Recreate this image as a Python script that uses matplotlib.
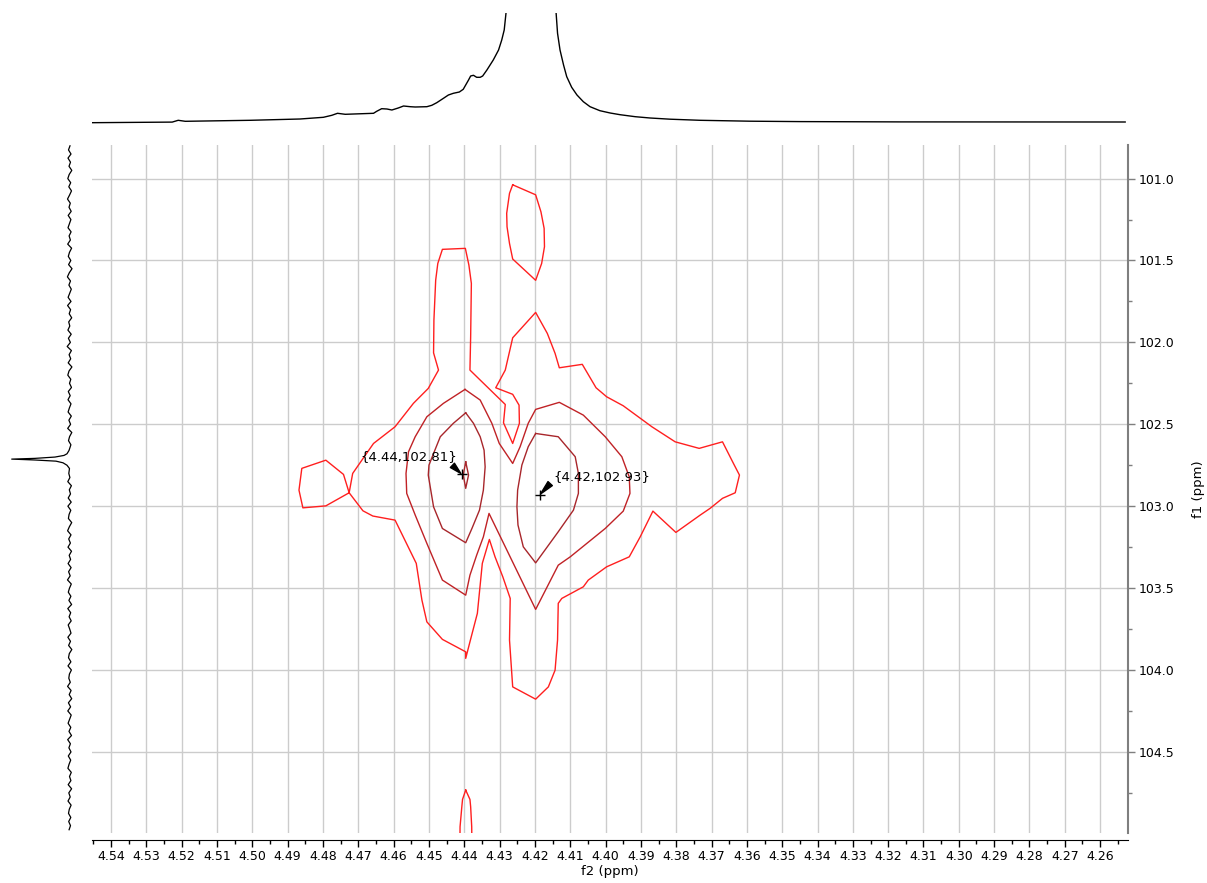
import numpy as np
import matplotlib
matplotlib.use("Agg")
import matplotlib.pyplot as plt
from matplotlib.ticker import MultipleLocator, FormatStrFormatter

# ---- 1D projection on top (f2, ppm / intensity) ----
top_f2 = [4.5457, 4.5227, 4.5210, 4.5190, 4.5006, 4.4865, 4.4799, 4.4775, 4.4759, 4.4737,
          4.4657, 4.4648, 4.4634, 4.4619, 4.4605, 4.4587, 4.4572, 4.4553, 4.4539, 4.4506,
          4.4492, 4.4478, 4.4459, 4.4445, 4.4431, 4.4414, 4.4403, 4.4388, 4.4382, 4.4374,
          4.4365, 4.4355, 4.4348, 4.4336, 4.4318, 4.4303, 4.4294, 4.4287, 4.4282, 4.4275,
          4.4265, 4.4211, 4.4158, 4.4147, 4.4140, 4.4136, 4.4129, 4.4119, 4.4110, 4.4096,
          4.4081, 4.4063, 4.4044, 4.4016, 4.3987, 4.3959, 4.3916, 4.3874, 4.3817, 4.3732,
          4.3591, 4.3449, 4.3166, 4.2529]
top_int = [-0.2, 0.4, 2.2, 1.2, 2.2, 3.5, 5.2, 7.2, 9.2, 8.2,
           9.2, 11.2, 13.8, 13.5, 12.5, 14.5, 16.5, 15.8, 15.5, 15.8,
           17.2, 19.8, 24.2, 27.5, 29.2, 30.5, 33.2, 42.5, 46.5, 47.2,
           45.2, 45.2, 46.5, 52.5, 62.5, 72.5, 82.5, 92.5, 109.2, 140.0,
           200.0, 800.0, 200.0, 140.0, 109.2, 89.2, 72.5, 57.5, 45.8, 35.2,
           27.5, 20.8, 15.8, 11.8, 9.5, 7.8, 5.8, 4.5, 3.3, 2.2,
           1.3, 0.9, 0.6, 0.5]

# ---- 1D projection on the left (f1, ppm / intensity) ----
noise_f1 = np.linspace(100.80, 104.975, 168)
noise_int = [0.0, 1.5, -1.0, 2.0, -0.5, 1.0, -1.8, 0.8, 2.2, -0.7, 1.2, -1.5, 0.4, 2.5, -0.3, 1.0, -1.2, 1.8, -0.9, 0.6, 2.0,
             -1.1, 0.9, -0.4, 2.3, -1.6, 0.5, 1.7, -0.8, 1.4, -2.0, 0.7, 2.6, -0.5, 1.1, -1.3, 0.3, 1.9, -1.0, 2.4, -0.6, 0.8,
             -1.7, 1.3, 0.2, 2.1, -1.2, 1.6, -0.4, 2.8, -1.4, 0.9, -0.7, 1.8, -1.9, 1.0, 2.2, -0.8, 0.5, -1.5, 1.7, -0.2, 2.0,
             -1.0, 0.6, 1.9, -1.3, 1.1, -0.6, 2.3, -1.8, 0.4, 1.5, -0.9, 2.7, -1.1, 0.8, -0.3, 1.6, -1.6, 1.2, 0.1, 2.2, -1.4,
             0.7, -0.5, 1.8, -1.2, 2.1, -0.8, 0.9, 1.6, -1.7, 0.6, 2.4, -1.0, 1.3, -0.4, 2.0, -1.5, 0.8, -0.6, 1.9, -1.1, 1.4,
             -0.2, 2.5, -1.3, 0.5, 1.7, -0.9, 1.1, -1.6, 2.2, -0.7, 0.9, -1.2, 1.8, 0.3, -1.0, 2.1, -0.5, 1.4, -1.8, 0.7, 1.5,
             -0.9, 2.0, -1.4, 0.6, 1.2, -0.3, 2.4, -1.1, 0.8, -1.7, 1.6, -0.6, 2.2, -1.2, 0.4, 1.9, -0.8, 1.0, -1.5, 2.3, -0.4,
             1.1, -1.0, 1.7, -0.7, 0.9, 2.1, -1.3, 0.5, -0.9, 1.8, -1.6, 1.2, -0.2, 2.0, -1.1, 0.7, 1.5, -0.8, 1.3, -0.5, 0.9]
peak1d_f1 = [102.66, 102.68, 102.69, 102.70, 102.708, 102.7125, 102.718, 102.725, 102.735, 102.75, 102.77]
peak1d_int = [1.0, 3.0, 6.0, 15.0, 35.0, 58.3, 35.0, 14.0, 7.0, 3.0, 0.5]

# ---- 2D contours (f2, f1) in ppm ----
contour_top_blob = [(4.4263, 101.038), (4.4198, 101.099), (4.4183, 101.203), (4.4174, 101.304),
                    (4.4173, 101.416), (4.4181, 101.518), (4.4198, 101.621), (4.4263, 101.491),
                    (4.4272, 101.396), (4.4279, 101.294), (4.4280, 101.212), (4.4272, 101.090),
                    (4.4263, 101.038)]

contour_left_blob = [(4.4726, 102.918), (4.4742, 102.806), (4.4792, 102.719), (4.4860, 102.769),
                     (4.4868, 102.902), (4.4857, 103.010), (4.4792, 102.998), (4.4726, 102.918)]

contour_outer = [(4.4726, 102.918), (4.4687, 103.028), (4.4659, 103.060), (4.4596, 103.085),
                 (4.4536, 103.349), (4.4520, 103.573), (4.4506, 103.706), (4.4462, 103.813),
                 (4.4396, 103.889), (4.4396, 103.929), (4.4384, 103.828), (4.4363, 103.654),
                 (4.4349, 103.349), (4.4329, 103.203), (4.4313, 103.309), (4.4291, 103.431),
                 (4.4270, 103.563), (4.4272, 103.817), (4.4263, 104.103), (4.4198, 104.178),
                 (4.4162, 104.103), (4.4143, 104.001), (4.4136, 103.817), (4.4134, 103.593),
                 (4.4124, 103.563), (4.4063, 103.492), (4.4049, 103.451), (4.3997, 103.370),
                 (4.3933, 103.309), (4.3902, 103.187), (4.3866, 103.030), (4.3801, 103.160),
                 (4.3732, 103.054), (4.3704, 103.013), (4.3669, 102.952), (4.3633, 102.918),
                 (4.3621, 102.810), (4.3638, 102.739), (4.3669, 102.607), (4.3735, 102.647),
                 (4.3803, 102.607), (4.3869, 102.515), (4.3950, 102.387), (4.3997, 102.332),
                 (4.4027, 102.277), (4.4066, 102.134), (4.4131, 102.155), (4.4143, 102.067),
                 (4.4165, 101.945), (4.4198, 101.817), (4.4263, 101.972), (4.4284, 102.169),
                 (4.4311, 102.277), (4.4263, 102.317), (4.4245, 102.383), (4.4244, 102.494),
                 (4.4263, 102.617), (4.4289, 102.491), (4.4284, 102.379), (4.4355, 102.230),
                 (4.4384, 102.169), (4.4382, 101.966), (4.4380, 101.640), (4.4387, 101.528),
                 (4.4397, 101.426), (4.4462, 101.432), (4.4475, 101.518), (4.4481, 101.620),
                 (4.4486, 101.864), (4.4487, 102.064), (4.4473, 102.169), (4.4502, 102.281),
                 (4.4544, 102.372), (4.4596, 102.515), (4.4657, 102.617), (4.4690, 102.719),
                 (4.4716, 102.800), (4.4726, 102.918)]

contour_mid = [(4.4398, 102.287), (4.4355, 102.352), (4.4322, 102.494), (4.4301, 102.617),
               (4.4263, 102.739), (4.4242, 102.637), (4.4219, 102.494), (4.4198, 102.409),
               (4.4131, 102.366), (4.4063, 102.444), (4.4001, 102.576), (4.3954, 102.698),
               (4.3933, 102.821), (4.3931, 102.922), (4.3950, 103.030), (4.4001, 103.136),
               (4.4100, 103.309), (4.4134, 103.360), (4.4198, 103.630), (4.4284, 103.248),
               (4.4330, 103.044), (4.4346, 103.187), (4.4365, 103.299), (4.4384, 103.421),
               (4.4396, 103.543), (4.4462, 103.451), (4.4506, 103.227), (4.4539, 103.054),
               (4.4563, 102.922), (4.4565, 102.800), (4.4558, 102.668), (4.4539, 102.576),
               (4.4506, 102.454), (4.4459, 102.372), (4.4398, 102.287)]

contour_inner_a = [(4.4396, 102.430), (4.4374, 102.494), (4.4355, 102.576), (4.4344, 102.658),
                   (4.4341, 102.760), (4.4346, 102.902), (4.4357, 103.024), (4.4378, 103.134),
                   (4.4396, 103.223), (4.4462, 103.136), (4.4487, 103.004), (4.4502, 102.810),
                   (4.4500, 102.749), (4.4487, 102.678), (4.4468, 102.576), (4.4431, 102.494),
                   (4.4396, 102.430)]

contour_inner_b = [(4.4198, 102.556), (4.4134, 102.576), (4.4086, 102.698), (4.4077, 102.800),
                   (4.4077, 102.922), (4.4091, 103.024), (4.4134, 103.156), (4.4198, 103.346),
                   (4.4233, 103.248), (4.4248, 103.115), (4.4251, 103.004), (4.4249, 102.902),
                   (4.4237, 102.749), (4.4219, 102.637), (4.4198, 102.556)]

contour_core = [(4.4396, 102.729), (4.4388, 102.810), (4.4396, 102.891), (4.4403, 102.810),
                (4.4396, 102.729)]

contour_bottom_blob = [(4.4396, 104.733), (4.4384, 104.790), (4.4382, 104.835), (4.4379, 104.957),
                       (4.4378, 105.200), (4.4413, 105.200), (4.4412, 104.957), (4.4407, 104.835),
                       (4.4405, 104.790), (4.4396, 104.733)]

# ---- picked peaks ----
peak_f2 = [4.4407, 4.4187]
peak_f1 = [102.806, 102.932]

# ---- figure ----
W, H = 1207, 883
fig = plt.figure(figsize=(W / 100, H / 100), dpi=100)


def rect(l, t, r, b):
    return [l / W, 1 - b / H, (r - l) / W, (b - t) / H]


xlim = (4.5454, 4.2521)
ylim = (104.995, 100.795)

ax = fig.add_axes(rect(92, 145, 1128, 833))
ax_top = fig.add_axes(rect(92, 13, 1128, 125))
ax_left = fig.add_axes(rect(5, 145, 80, 833))

lvl1 = "#ff1f1f"
lvl2 = "#c02226"
lvl3 = "#a8262b"

for c, col in [(contour_top_blob, lvl1), (contour_left_blob, lvl1), (contour_outer, lvl1),
               (contour_bottom_blob, lvl1), (contour_mid, lvl2), (contour_inner_a, lvl3),
               (contour_inner_b, lvl3), (contour_core, lvl3)]:
    arr = np.array(c)
    ax.plot(arr[:, 0], arr[:, 1], color=col, lw=1)

ax.plot(peak_f2, peak_f1, "+", color="black", ms=7, mew=1, zorder=5)

label_pos = [((4.4695, 102.694), (0.91, 0.1)), ((4.4149, 102.816), (0.0, 0.15))]
for f2, f1, (txy, rp) in zip(peak_f2, peak_f1, label_pos):
    ax.annotate("{%.2f,%.2f}" % (f2, f1), xy=(f2, f1), xytext=txy, textcoords="data",
                ha="left", va="center", fontsize=9.5,
                arrowprops=dict(arrowstyle="wedge,tail_width=0.45", color="black",
                                shrinkA=0, shrinkB=1, relpos=rp))

ax.set_xlim(*xlim)
ax.set_ylim(*ylim)
ax.xaxis.set_major_locator(MultipleLocator(0.01))
ax.xaxis.set_minor_locator(MultipleLocator(0.005))
ax.xaxis.set_major_formatter(FormatStrFormatter("%.2f"))
ax.yaxis.set_major_locator(MultipleLocator(0.5))
ax.yaxis.set_minor_locator(MultipleLocator(0.25))
ax.yaxis.set_major_formatter(FormatStrFormatter("%.1f"))
ax.yaxis.tick_right()
ax.yaxis.set_label_position("right")

ax.spines["top"].set_visible(False)
ax.spines["left"].set_visible(False)
ax.spines["right"].set_color("#7f7f7f")
ax.spines["right"].set_linewidth(1.5)
ax.spines["bottom"].set_position(("outward", 5))
ax.spines["bottom"].set_color("black")

ax.tick_params(axis="x", which="major", direction="out", length=5, width=1, labelsize=9, pad=2)
ax.tick_params(axis="x", which="minor", direction="out", length=3, width=1)
ax.tick_params(axis="y", which="major", direction="out", length=5, width=1, color="#7f7f7f",
               labelsize=9, pad=3)
ax.tick_params(axis="y", which="minor", direction="out", length=3, width=1, color="#7f7f7f")

ax.grid(True, which="major", color="#cccccc", lw=1)
ax.set_axisbelow(True)
ax.set_xlabel("f2 (ppm)", fontsize=9.5, labelpad=2)
ax.set_ylabel("f1 (ppm)", fontsize=9.5, labelpad=12)

# top projection
ax_top.plot(top_f2, top_int, color="black", lw=1)
ax_top.set_xlim(*xlim)
ax_top.set_ylim(-2.5, 109.5)
ax_top.axis("off")

# left projection
mask = (noise_f1 < 102.64) | (noise_f1 > 102.79)
left_f1 = np.concatenate([noise_f1[mask], peak1d_f1])
left_int = np.concatenate([np.array(noise_int)[mask], peak1d_int])
order = np.argsort(left_f1)
ax_left.plot(left_int[order], left_f1[order], color="black", lw=0.9)
ax_left.set_xlim(65, -10)
ax_left.set_ylim(*ylim)
ax_left.axis("off")

fig.savefig("out.png", dpi=100)
